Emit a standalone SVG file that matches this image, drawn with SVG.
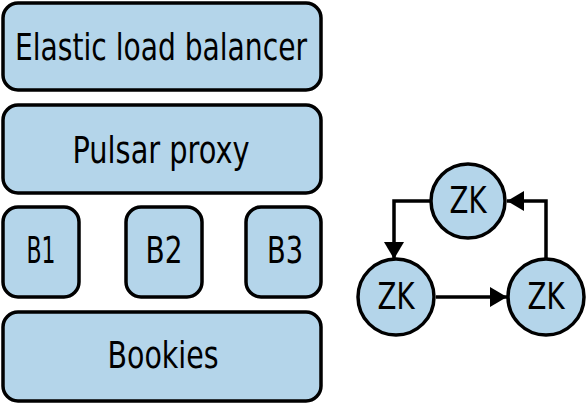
<svg xmlns="http://www.w3.org/2000/svg" width="587" height="404" viewBox="0 0 587 404">
  <defs>
    <style>
      .box { fill: #b4d5ea; stroke: #000; stroke-width: 3.5; }
      .lbl { font-family: "DejaVu Sans Condensed", "Liberation Sans", sans-serif; font-size: 38px; fill: #000; text-anchor: middle; }
      .conn { fill: none; stroke: #000; stroke-width: 3.5; }
    </style>
    <marker id="arr" viewBox="0 0 17 20" refX="17" refY="10" markerWidth="17" markerHeight="20" orient="auto" markerUnits="userSpaceOnUse">
      <path d="M0,0 L17,10 L0,20 Z" fill="#000"/>
    </marker>
  </defs>
  <rect width="587" height="404" fill="#fff"/>
  <g id="elb">
    <rect class="box" x="3" y="3" width="318" height="87" rx="15"/>
    <text class="lbl" x="161" y="60" textLength="292" lengthAdjust="spacingAndGlyphs">Elastic load balancer</text>
  </g>
  <g id="proxy">
    <rect class="box" x="3" y="105" width="318" height="88" rx="15"/>
    <text class="lbl" x="161" y="163" textLength="177" lengthAdjust="spacingAndGlyphs">Pulsar proxy</text>
  </g>
  <g id="b1">
    <rect class="box" x="3" y="207" width="76" height="90" rx="15"/>
    <text class="lbl" x="41" y="263" textLength="29" lengthAdjust="spacingAndGlyphs">B1</text>
  </g>
  <g id="b2">
    <rect class="box" x="126" y="207" width="76" height="90" rx="15"/>
    <text class="lbl" x="164" y="263" textLength="37" lengthAdjust="spacingAndGlyphs">B2</text>
  </g>
  <g id="b3">
    <rect class="box" x="246" y="207" width="75" height="90" rx="15"/>
    <text class="lbl" x="285" y="263" textLength="36" lengthAdjust="spacingAndGlyphs">B3</text>
  </g>
  <g id="bookies">
    <rect class="box" x="3" y="312" width="318" height="89" rx="15"/>
    <text class="lbl" x="163" y="368" textLength="111" lengthAdjust="spacingAndGlyphs">Bookies</text>
  </g>
  <g id="connectors">
    <path class="conn" d="M430,201 H394 V259" marker-end="url(#arr)"/>
    <path class="conn" d="M436,297 H507" marker-end="url(#arr)"/>
    <path class="conn" d="M546,259 V201 H507" marker-end="url(#arr)"/>
  </g>
  <g id="zk-top">
    <circle class="box" cx="468" cy="201" r="37"/>
    <text class="lbl" x="468" y="213" textLength="37" lengthAdjust="spacingAndGlyphs">ZK</text>
  </g>
  <g id="zk-left">
    <circle class="box" cx="396" cy="297" r="38"/>
    <text class="lbl" x="396" y="309" textLength="37" lengthAdjust="spacingAndGlyphs">ZK</text>
  </g>
  <g id="zk-right">
    <circle class="box" cx="546" cy="297" r="38"/>
    <text class="lbl" x="546" y="309" textLength="37" lengthAdjust="spacingAndGlyphs">ZK</text>
  </g>
</svg>
